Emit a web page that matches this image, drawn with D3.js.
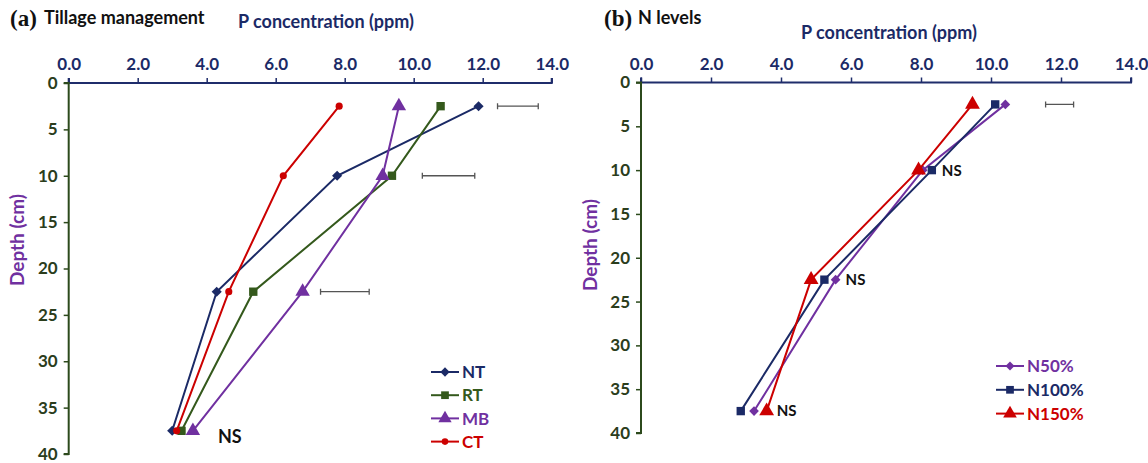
<!DOCTYPE html>
<html>
<head>
<meta charset="utf-8">
<script src="https://cdn.jsdelivr.net/npm/d3@7"></script>
<style>
  body { margin: 0; background: #fff; }
  text { font-family: Lato, "Open Sans", sans-serif; font-weight: bold; }
</style>
</head>
<body>
<svg id="chart" width="1148" height="463"></svg>
<script>
// depths (cm) shared by both panels
var depths = [2.5, 10, 22.5, 37.5];
var xTicks = [0, 2, 4, 6, 8, 10, 12, 14];
var yTicks = [0, 5, 10, 15, 20, 25, 30, 35, 40];

// panel (a) tillage management
var tillageNames = ["NT", "RT", "MB", "CT"];
var NT = [11.88, 7.78, 4.29, 3.0];
var RT = [10.78, 9.37, 5.35, 3.27];
var MB = [9.57, 9.10, 6.78, 3.6];
var CT = [7.84, 6.22, 4.64, 3.13];
var tillageLsd = [[12.43, 13.61, 2.5], [10.25, 11.77, 10], [7.3, 8.71, 22.5]];

// panel (b) N levels
var nNames = ["N50%", "N100%", "N150%"];
var N50 = [10.41, 8.05, 5.56, 3.23];
var N100 = [10.12, 8.31, 5.24, 2.85];
var N150 = [9.47, 7.93, 4.86, 3.59];
var nLsd = [[11.56, 12.36, 2.5]];
var nsDepths = [10, 22.5, 37.5];

var navy = "#1b2a66", green = "#34591c", purple = "#7030a0", red = "#cc0000";
var axisX = "#1f2d6b", axisY = "#2c4a1c";

var svg = d3.select("#chart");

function panel(opt) {
    var x = d3.scaleLinear().domain([0, 14]).range([opt.x0, opt.x1]);
    var y = d3.scaleLinear().domain([0, 40]).range([opt.y0, opt.y1]);
    var g = svg.append("g");

    // x axis on top
    var xa = g.append("g")
        .attr("transform", `translate(0,${opt.y0})`)
        .call(d3.axisTop(x).tickValues(xTicks).tickSize(5).tickPadding(8).tickFormat(d3.format(".1f")));
    xa.select(".domain").attr("stroke", axisX).attr("stroke-width", 2).attr("d", `M${opt.x0},-5V0H${opt.x1}V-5`);
    xa.selectAll(".tick line").attr("stroke", axisX).attr("stroke-width", 1.5);
    xa.selectAll(".tick text").attr("fill", navy).style("font-size", "17px").style("font-family", "Lato, sans-serif");

    var ya = g.append("g")
        .attr("transform", `translate(${opt.x0},0)`)
        .call(d3.axisLeft(y).tickValues(yTicks).tickSize(5).tickPadding(6));
    ya.select(".domain").attr("stroke", axisY).attr("stroke-width", 2).attr("d", `M-5,${opt.y0}H0V${opt.y1}H-5`);
    ya.selectAll(".tick line").attr("stroke", axisY).attr("stroke-width", 1.5);
    ya.selectAll(".tick text").attr("fill", "#2b3d1c").style("font-size", "17px").style("font-family", "Lato, sans-serif");

    // titles
    g.append("text").attr("x", opt.tagX).attr("y", 26)
        .style("font-family", "'Liberation Serif', serif").style("font-size", "23px").attr("fill", "#111")
        .text(opt.tag);
    g.append("text").attr("x", opt.tagX + 34).attr("y", 24)
        .style("font-size", "18px").attr("fill", "#111").text(opt.title);
    g.append("text").attr("x", opt.xtX).attr("y", opt.xtY).attr("text-anchor", "middle")
        .style("font-size", "18px").attr("fill", navy).text(opt.xTitle);
    g.append("text").attr("transform", `translate(${opt.ytX},${opt.ytY}) rotate(-90)`)
        .attr("text-anchor", "middle").style("font-size", "19px").attr("fill", purple).text("Depth (cm)");

    // LSD bars
    opt.lsd.forEach(function (b) {
        var yy = y(b[2]);
        g.append("path")
            .attr("d", `M${x(b[0])},${yy - 3}V${yy + 3}M${x(b[0])},${yy}H${x(b[1])}M${x(b[1])},${yy - 3}V${yy + 3}`)
            .attr("stroke", "#555").attr("stroke-width", 1.3).attr("fill", "none");
    });

    var line = d3.line().x(function (d) { return x(d[0]); }).y(function (d) { return y(d[1]); });

    opt.series.forEach(function (s) {
        var pts = s.values.map(function (v, i) { return [v, depths[i]]; });
        g.append("path").datum(pts).attr("d", line)
            .attr("fill", "none").attr("stroke", s.color).attr("stroke-width", 2);
        g.selectAll(null).data(pts).enter().append("path")
            .attr("transform", function (d) { return `translate(${x(d[0])},${y(d[1])})`; })
            .attr("d", d3.symbol().type(s.symbol).size(s.size))
            .attr("fill", s.color);
    });

    // legend
    opt.series.forEach(function (s, i) {
        var ly = opt.legY + i * opt.legStep;
        var lg = g.append("g").attr("transform", `translate(${opt.legX},${ly})`);
        lg.append("line").attr("x1", 0).attr("x2", 28).attr("stroke", s.color).attr("stroke-width", 2);
        lg.append("path").attr("transform", "translate(14,0)")
            .attr("d", d3.symbol().type(s.symbol).size(s.size * 0.85)).attr("fill", s.color);
        lg.append("text").attr("x", 31).attr("dy", "0.36em")
            .style("font-size", opt.legFont).attr("fill", s.color).text(s.name);
    });

    return {x: x, y: y, g: g};
}

var a = panel({
    x0: 68.7, x1: 551.7, y0: 83, y1: 454,
    tag: "(a)", tagX: 10, title: "Tillage management",
    xTitle: "P concentration (ppm)", xtX: 326, xtY: 28,
    ytX: 24, ytY: 240,
    lsd: tillageLsd,
    legX: 431, legY: 372, legStep: 23.2, legFont: "17px",
    series: [
        {name: tillageNames[0], values: NT, color: navy, symbol: d3.symbolDiamond2, size: 65},
        {name: tillageNames[1], values: RT, color: green, symbol: d3.symbolSquare, size: 70},
        {name: tillageNames[2], values: MB, color: purple, symbol: d3.symbolTriangle, size: 90},
        {name: tillageNames[3], values: CT, color: red, symbol: d3.symbolCircle, size: 40}
    ]
});
a.g.append("text").attr("x", 218).attr("y", 443).style("font-size", "18px").attr("fill", "#111").text("NS");

var b = panel({
    x0: 641, x1: 1131, y0: 82.5, y1: 433,
    tag: "(b)", tagX: 604, title: "N levels",
    xTitle: "P  concentration (ppm)", xtX: 889, xtY: 39,
    ytX: 597, ytY: 245,
    lsd: nLsd,
    legX: 996, legY: 366, legStep: 23.8, legFont: "17px",
    series: [
        {name: nNames[0], values: N50, color: purple, symbol: d3.symbolDiamond2, size: 60},
        {name: nNames[1], values: N100, color: navy, symbol: d3.symbolSquare, size: 70},
        {name: nNames[2], values: N150, color: red, symbol: d3.symbolTriangle, size: 95}
    ]
});
var nsX = [8.31, 5.56, 3.59];
b.g.selectAll(null).data(nsDepths).enter().append("text")
    .attr("x", function (d, i) { return b.x(nsX[i]) + 10; })
    .attr("y", function (d) { return b.y(d); }).attr("dy", "0.36em")
    .style("font-size", "15px").attr("fill", "#111").text("NS");
</script>
</body>
</html>
